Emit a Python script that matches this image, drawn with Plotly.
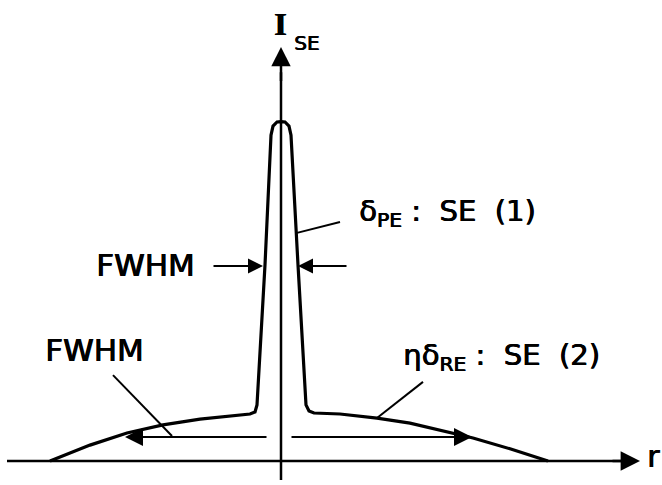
import plotly.graph_objects as go

# ---- data (r in arbitrary units, I normalised to peak = 1) ----
profile_r = [-23.1, -19.1, -15.4, -11.8, -8.1, -5.1, -3.1, -2.6, -2.4, -1.6, -1.0, -0.8,
             -0.4, 0.0, 0.4, 0.8, 1.0, 1.7, 2.5, 2.8, 3.3, 5.9, 9.6, 12.9, 15.9, 19.2, 22.9, 26.7]
profile_I = [0.0, 0.047, 0.083, 0.107, 0.124, 0.133, 0.139, 0.145, 0.166, 0.580, 0.964, 0.991,
             1.003, 1.004, 1.003, 0.991, 0.964, 0.580, 0.166, 0.148, 0.142, 0.139, 0.127, 0.112,
             0.092, 0.068, 0.036, 0.0]

fwhm_narrow_level = 0.577
fwhm_narrow_edges = [-1.8, 1.7]
fwhm_broad_level = 0.071
fwhm_broad_edges = [-15.6, 19.1]

NB = "\u00a0"
labels_main = ["FWHM", "FWHM",
               "δ<sub>PE</sub>" + NB + ":" + NB * 2 + "SE" + NB * 2 + "(1)",
               "ηδ<sub>RE</sub>" + NB + ":" + NB * 2 + "SE" + NB * 2 + "(2)"]

K = "black"
FONT = "DejaVu Sans, sans-serif"
SHADOW = "0.8px 0px 0px #000, 0px 0.4px 0px #000"

fig = go.Figure()

# axes lines
fig.add_trace(go.Scatter(x=[-27.4, 34.0], y=[0, 0], mode="lines",
                         line=dict(color=K, width=2.5), hoverinfo="skip"))
fig.add_trace(go.Scatter(x=[0, 0], y=[-0.056, 1.15], mode="lines",
                         line=dict(color=K, width=2.5), hoverinfo="skip"))

# profile
fig.add_trace(go.Scatter(x=profile_r, y=profile_I, mode="lines",
                         line=dict(color=K, width=3.2), hoverinfo="skip"))

# leader lines
leaders = [
    ([1.6, 5.9], [0.675, 0.707]),
    ([9.6, 14.2], [0.127, 0.234]),
    ([-16.8, -10.9], [0.254, 0.074]),
]
for lx, ly in leaders:
    fig.add_trace(go.Scatter(x=lx, y=ly, mode="lines",
                             line=dict(color=K, width=2), hoverinfo="skip"))

ann = []

def arrow(x, y, ax, ay, w, s):
    ann.append(dict(x=x, y=y, ax=ax, ay=ay, xref="x", yref="y", axref="x", ayref="y",
                    text="", showarrow=True, arrowhead=2, arrowwidth=w, arrowsize=s,
                    arrowcolor=K))

# axis arrowheads
arrow(35.9, 0, 33.0, 0, 2.5, 1.55)
arrow(0, 1.225, 0, 1.12, 2.5, 1.55)

# narrow FWHM arrows
arrow(fwhm_narrow_edges[0], fwhm_narrow_level, -6.9, fwhm_narrow_level, 2, 1.5)
arrow(fwhm_narrow_edges[1], fwhm_narrow_level, 6.7, fwhm_narrow_level, 2, 1.5)

# broad FWHM arrows (with gap at the axis)
arrow(fwhm_broad_edges[0], fwhm_broad_level, -1.3, fwhm_broad_level, 2, 1.8)
arrow(fwhm_broad_edges[1], fwhm_broad_level, 0.9, fwhm_broad_level, 2, 1.8)

def text(x, y, t, size=29, xanchor="center", family=FONT, weight="normal"):
    ann.append(dict(x=x, y=y, xref="x", yref="y", text=t, showarrow=False,
                    xanchor=xanchor, yanchor="middle",
                    font=dict(family=family, size=size, color=K, weight=weight,
                              shadow=SHADOW)))

text(-13.6, 0.580, labels_main[0], 31)
text(-18.7, 0.328, labels_main[1], 31)
text(7.6, 0.734, labels_main[2], 29, "left")
text(12.0, 0.308, labels_main[3], 29, "left")
text(-0.1, 1.292, "I", 32, "center", "Liberation Serif, serif", "bold")
text(1.1, 1.236, "SE", 20, "left")
text(36.4, 0.012, "r", 30, "left")

fig.update_layout(
    width=662, height=485,
    margin=dict(l=0, r=0, t=0, b=0),
    paper_bgcolor="white", plot_bgcolor="white",
    showlegend=False,
    annotations=ann,
    xaxis=dict(range=[-28.1, 38.1], visible=False, fixedrange=True),
    yaxis=dict(range=[-0.0710, 1.3639], visible=False, fixedrange=True),
)

fig.write_html("out.html")
